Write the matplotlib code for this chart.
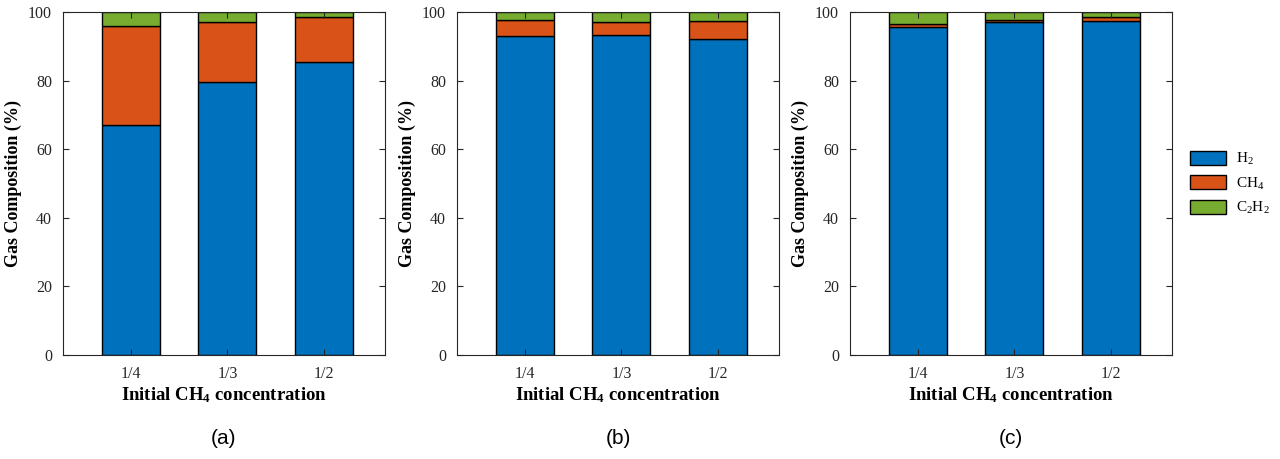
import matplotlib
matplotlib.use("Agg")
import matplotlib.pyplot as plt
import numpy as np

plt.rcParams["font.family"] = "Liberation Serif"
plt.rcParams["mathtext.fontset"] = "custom"
plt.rcParams["mathtext.rm"] = "Liberation Serif"
plt.rcParams["mathtext.it"] = "Liberation Serif:italic"
plt.rcParams["mathtext.bf"] = "Liberation Serif:bold"

# categories (initial CH4 fraction)
categories = ["1/4", "1/3", "1/2"]
panel_labels = ["(a)", "(b)", "(c)"]
species = ["H$_2$", "CH$_4$", "C$_2$H$_2$"]
colors = ["#0072BD", "#D95319", "#77AC30"]

# gas composition (%) for each panel
h2_a = [67.0, 79.6, 85.3]
ch4_a = [28.9, 17.6, 13.3]
c2h2_a = [4.1, 2.8, 1.4]

h2_b = [93.1, 93.3, 92.2]
ch4_b = [4.7, 3.9, 5.3]
c2h2_b = [2.2, 2.8, 2.5]

h2_c = [95.6, 97.2, 97.5]
ch4_c = [0.9, 0.5, 1.1]
c2h2_c = [3.5, 2.3, 1.4]

panels = [(h2_a, ch4_a, c2h2_a), (h2_b, ch4_b, c2h2_b), (h2_c, ch4_c, c2h2_c)]

fig = plt.figure(figsize=(12.8, 4.59), dpi=100)
lefts = [63, 457, 850]
x = np.arange(1, len(categories) + 1)

for i, (left, data) in enumerate(zip(lefts, panels)):
    ax = fig.add_axes([left / 1280, 1 - 355 / 459, 322 / 1280, 343 / 459])
    bottom = np.zeros(len(categories))
    handles = []
    for vals, col, name in zip(data, colors, species):
        h = ax.bar(x, vals, 0.6, bottom=bottom, color=col, edgecolor="black",
                   linewidth=1.0, label=name)
        handles.append(h)
        bottom = bottom + np.array(vals)
    ax.set_xlim(0.3, 3.63)
    ax.set_ylim(0, 100)
    ax.set_xticks(x)
    ax.set_xticklabels(categories)
    ax.set_yticks(np.arange(0, 101, 20))
    ax.tick_params(direction="in", top=True, right=True, labelsize=11.5,
                   length=4, width=0.8, colors="#262626", pad=8)
    for s in ax.spines.values():
        s.set_color("#262626")
        s.set_linewidth(0.8)
    ax.set_xlabel(r"Initial CH$_\mathbf{4}$ concentration", fontsize=13.5,
                  fontweight="bold", labelpad=2)
    ax.set_ylabel("Gas Composition (%)", fontsize=13, fontweight="bold", labelpad=4)
    fig.text((left + 161) / 1280, 1 - 438 / 459, panel_labels[i],
             fontsize=15, family="Liberation Sans", ha="center", va="center")
    if i == 2:
        ax.legend(handles=handles, loc="center left", bbox_to_anchor=(1.056, 0.5),
                  frameon=False, fontsize=11, handlelength=2.36, handleheight=1.05,
                  labelspacing=0.53, handletextpad=0.65, borderpad=0,
                  borderaxespad=0)

fig.savefig("out.png", dpi=100)
